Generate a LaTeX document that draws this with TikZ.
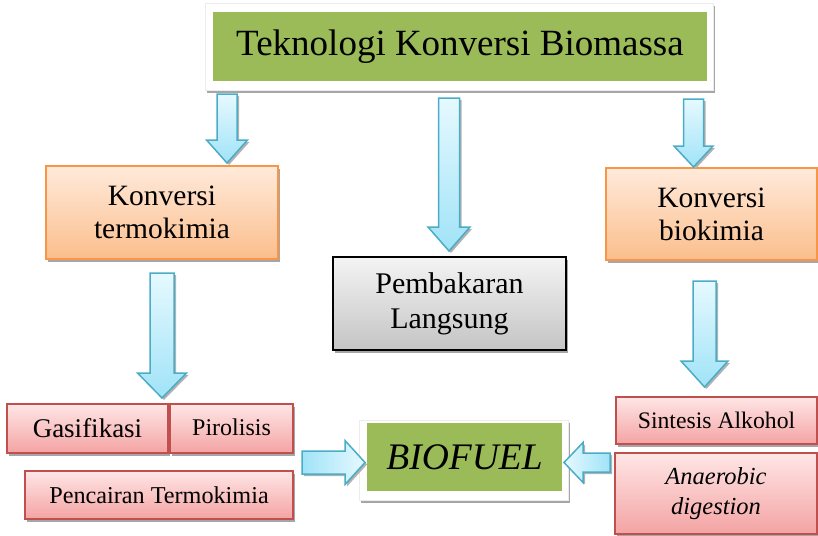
\documentclass[tikz,border=0pt]{standalone}
\usepackage{fontspec}
\setmainfont{Liberation Serif}
\usetikzlibrary{shadows,calc}
\definecolor{bgreen}{HTML}{9BBB59}
\definecolor{orbord}{HTML}{F79646}
\definecolor{ortop}{HTML}{FFEADB}
\definecolor{orbot}{HTML}{FBBE8C}
\definecolor{rdbord}{HTML}{C0504D}
\definecolor{rdtop}{HTML}{FFE6E6}
\definecolor{rdbot}{HTML}{F4A3A3}
\definecolor{grtop}{HTML}{F4F4F4}
\definecolor{grbot}{HTML}{C4C4C4}
\definecolor{artop}{HTML}{E6F9FF}
\definecolor{arbot}{HTML}{A0E3F7}
\definecolor{arbord}{HTML}{4BACC6}
\tikzset{
  box/.style={rectangle, inner sep=0pt, outer sep=0pt, align=center},
  shad/.style={drop shadow={shadow xshift=2pt, shadow yshift=-3pt, fill=gray!70, opacity=1}},
  framebox/.style={box, fill=white, draw=gray!15, line width=0.6pt, shad},
  greenbox/.style={box, fill=bgreen},
  orbox/.style={box, draw=orbord, line width=1.5pt, top color=ortop, bottom color=orbot, shad,
     font=\fontsize{29.5}{33}\selectfont},
  rdbox/.style={box, draw=rdbord, line width=1.5pt, top color=rdtop, bottom color=rdbot, shad},
  grbox/.style={box, draw=black, line width=1.5pt, top color=grtop, bottom color=grbot, shad,
     font=\fontsize{30}{35}\selectfont},
  blockarr/.style={draw=arbord, line width=1.5pt, line join=miter,
     drop shadow={shadow xshift=2pt, shadow yshift=-2pt, fill=gray!60, opacity=1}},
  varr/.style={blockarr, top color=artop, bottom color=arbot},
  harr/.style={blockarr, left color=arbot, right color=artop},
  harrl/.style={blockarr, left color=artop, right color=arbot},
}
% down arrow: xc, ytop, yhead, ytip, shaft half, head half
\newcommand\DownBlock[7][]{%
  \path[varr,#1] ({#2-#6},#3) -- ({#2+#6},#3) -- ({#2+#6},#4) -- ({#2+#7},#4) --
    (#2,#5) -- ({#2-#7},#4) -- ({#2-#6},#4) -- cycle;}
% horizontal arrow: yc, xstart, xhead, xtip, shaft half, head half
\newcommand\HorBlock[7][]{%
  \path[#1] (#3,{#2-#6}) -- (#4,{#2-#6}) -- (#4,{#2-#7}) -- (#5,#2) --
    (#4,{#2+#7}) -- (#4,{#2+#6}) -- (#3,{#2+#6}) -- cycle;}
\begin{document}
\begin{tikzpicture}[x=1pt,y=-1pt]
\useasboundingbox (0,0) rectangle (818,535);

% top title
\node[framebox, minimum width=508pt, minimum height=87pt] (topframe) at (459,46.5) {};
\node[greenbox, minimum width=494pt, minimum height=69pt, font=\fontsize{37}{40}\selectfont] (title) at (460,46.5) {Teknologi Konversi Biomassa};

% second level
\node[orbox, minimum width=232pt, minimum height=93pt] (termo) at (162,212.5) {Konversi\\termokimia};
\node[orbox, minimum width=211pt, minimum height=92pt] (bio) at (711.5,214) {Konversi\\biokimia};
\node[grbox, minimum width=233pt, minimum height=93pt] (bakar) at (449.5,303.5) {Pembakaran\\Langsung};

% left bottom boxes
\node[rdbox, minimum width=161pt, minimum height=49pt, font=\fontsize{27}{30}\selectfont] (gas) at (87.5,428.5) {Gasifikasi};
\node[rdbox, minimum width=123pt, minimum height=49pt, font=\fontsize{24}{28}\selectfont] (piro) at (231.5,428.5) {\raisebox{3pt}{Pirolisis}};
\node[rdbox, minimum width=268pt, minimum height=48pt, font=\fontsize{24.2}{28}\selectfont] (cair) at (159,495) {Pencairan Termokimia};

% right bottom boxes
\node[rdbox, minimum width=201pt, minimum height=47pt, font=\fontsize{23.7}{28}\selectfont] (sint) at (716.5,420.5) {Sintesis Alkohol};
\node[rdbox, minimum width=202pt, minimum height=81pt, font=\fontsize{24.5}{30}\itshape\selectfont] (anaer) at (716,493.5) {Anaerobic\\digestion};

% biofuel
\node[framebox, minimum width=209pt, minimum height=80pt] (bfframe) at (463.5,460) {};
\node[greenbox, minimum width=195pt, minimum height=68pt, font=\fontsize{37.5}{40}\itshape\selectfont] (biofuel) at (464.5,457) {BIOFUEL};

% block arrows
\DownBlock{227}{94}{140}{163}{10}{20.5}
\DownBlock{449}{98}{227}{251}{10.5}{21}
\DownBlock{693.5}{99}{146}{167}{10}{19.5}
\DownBlock{162}{273}{373}{398}{12}{24.5}
\DownBlock{704.5}{281}{361}{387}{11.5}{23.5}
\HorBlock[harr]{462.5}{302}{345}{365}{11.5}{22}
\HorBlock[harrl]{462.5}{610}{583}{564}{9.5}{20}
\end{tikzpicture}
\end{document}
